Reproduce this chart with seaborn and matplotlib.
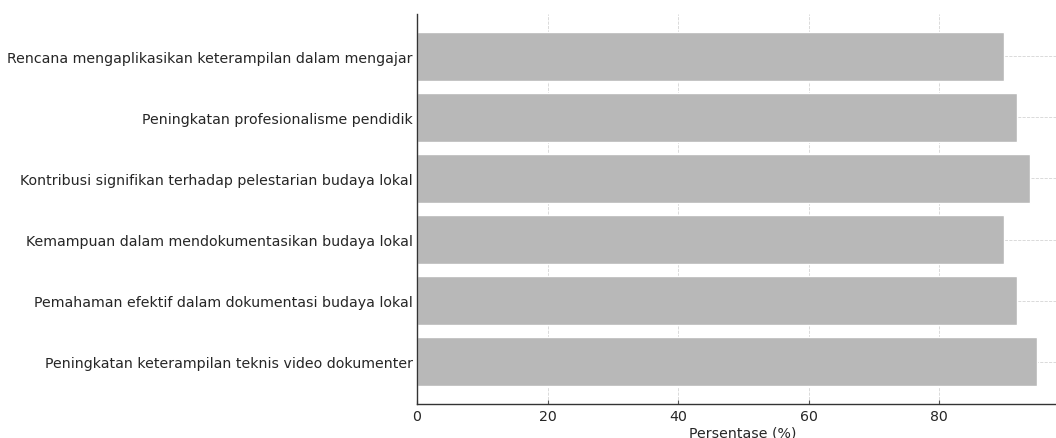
import matplotlib
matplotlib.use('Agg')
import matplotlib.pyplot as plt
import seaborn as sns
import pandas as pd

# Data
categories = [
    'Rencana mengaplikasikan keterampilan dalam mengajar',
    'Peningkatan profesionalisme pendidik',
    'Kontribusi signifikan terhadap pelestarian budaya lokal',
    'Kemampuan dalam mendokumentasikan budaya lokal',
    'Pemahaman efektif dalam dokumentasi budaya lokal',
    'Peningkatan keterampilan teknis video dokumenter',
]
percentages = [90, 92, 94, 90, 92, 95]

df = pd.DataFrame({'Aspek': categories, 'Persentase': percentages})

sns.set_theme(style='whitegrid')
plt.rcParams['font.family'] = ['DejaVu Sans']
TEXT = '#262626'

fig = plt.figure(figsize=(10.56, 4.39), dpi=100)
ax = fig.add_axes([417 / 1056, 34 / 439, (1068 - 417) / 1056, 390 / 439])

sns.barplot(data=df, x='Persentase', y='Aspek', color='#b8b8b8', saturation=1,
            width=0.8, ax=ax)

ax.set_xlim(0, 99.75)
ax.set_ylim(5.69, -0.69)
ax.set_xticks([0, 20, 40, 60, 80])
ax.set_xlabel('Persentase (%)', fontsize=10.15, color=TEXT, labelpad=2)
ax.set_ylabel('')
ax.tick_params(axis='both', labelsize=10.15, colors='#555555',
               direction='in', length=3, width=0.8, left=True, bottom=True)
ax.tick_params(axis='y', pad=3)
ax.tick_params(axis='both', labelcolor=TEXT)

ax.grid(True, linestyle='--', linewidth=0.6, color='#d4d4d4')
ax.set_axisbelow(True)
for s in ['top', 'right']:
    ax.spines[s].set_visible(False)
for s in ['left', 'bottom']:
    ax.spines[s].set_color('#333333')
    ax.spines[s].set_linewidth(1.0)

fig.savefig('out.png', dpi=100)
